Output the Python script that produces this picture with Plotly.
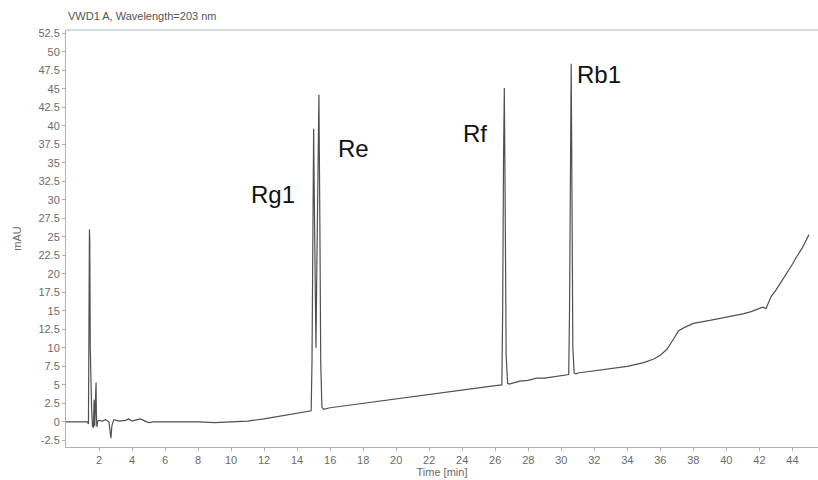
import plotly.graph_objects as go

# ---- data ----
pre_t   = [0.0, 1.0, 1.3]
pre_y   = [0.0, 0.0, 0.0]

solv_t  = [1.36, 1.38, 1.40, 1.42, 1.44, 1.47, 1.50, 1.55, 1.60, 1.66, 1.70, 1.74, 1.78, 1.82, 1.84, 1.87, 1.92, 2.0]
solv_y  = [-0.3, 10.0, 18.0, 26.0, 24.5, 10.0, 5.5, 2.0, -0.5, -0.8, 3.0, -0.6, 2.5, 5.3, 1.0, -0.7, 0.1, 0.2]

early_t = [2.2, 2.4, 2.6, 2.68, 2.72, 2.78, 2.9, 3.2, 3.6, 3.8, 4.0, 4.3, 4.5, 4.7, 5.0, 5.3, 5.6, 6.0, 6.4, 7.0, 8.0, 9.0, 10.0, 10.8, 11.0, 12.0, 13.0, 14.0, 14.6, 14.85]
early_y = [0.1, 0.3, 0.0, -1.5, -2.2, -0.5, 0.3, 0.1, 0.2, 0.4, 0.1, 0.3, 0.4, 0.2, -0.1, 0.0, 0.0, 0.1, 0.0, 0.0, 0.0, -0.1, 0.0, 0.0, 0.1, 0.4, 0.8, 1.2, 1.4, 1.5]

rg1_t   = [14.90, 14.95, 15.00, 15.05, 15.10, 15.14]
rg1_y   = [8.0, 25.0, 39.6, 28.0, 14.0, 10.0]

re_t    = [15.20, 15.26, 15.32, 15.38, 15.43, 15.50, 15.6]
re_y    = [22.0, 35.0, 44.2, 26.0, 8.0, 2.0, 1.7]

mid_t   = [16.0, 17.0, 18.0, 19.0, 20.0, 21.0, 22.0, 23.0, 24.0, 25.0, 26.0, 26.4]
mid_y   = [1.9, 2.2, 2.6, 2.9, 3.2, 3.5, 3.8, 4.1, 4.4, 4.7, 4.9, 5.0]

rf_t    = [26.45, 26.50, 26.55, 26.60, 26.66, 26.75, 26.85]
rf_y    = [15.0, 35.0, 45.1, 30.0, 9.0, 5.2, 5.1]

mid2_t  = [27.0, 27.5, 28.0, 28.5, 29.0, 29.5, 30.0, 30.45]
mid2_y  = [5.2, 5.5, 5.6, 5.9, 5.9, 6.1, 6.3, 6.4]

rb1_t   = [30.50, 30.55, 30.60, 30.65, 30.70, 30.78, 30.9]
rb1_y   = [15.0, 34.0, 48.4, 30.0, 10.0, 6.6, 6.5]

late_t  = [31.0, 32.0, 33.0, 34.0, 35.0, 35.6, 36.0, 36.4, 36.8, 37.1, 37.5, 38.0, 39.0, 40.0, 41.0, 41.5, 42.0, 42.2, 42.4, 42.7, 43.0, 43.5, 44.0, 44.2, 44.6, 45.0]
late_y  = [6.6, 6.9, 7.2, 7.5, 8.0, 8.5, 9.0, 9.8, 11.2, 12.3, 12.8, 13.3, 13.7, 14.1, 14.6, 14.9, 15.3, 15.5, 15.3, 16.9, 17.8, 19.5, 21.3, 22.1, 23.5, 25.3]

time = pre_t + solv_t + early_t + rg1_t + re_t + mid_t + rf_t + mid2_t + rb1_t + late_t
mau  = pre_y + solv_y + early_y + rg1_y + re_y + mid_y + rf_y + mid2_y + rb1_y + late_y

peak_names = ["Rg1", "Re", "Rf", "Rb1"]
label_x    = [12.55, 17.4, 24.75, 32.3]
label_y    = [30.7, 37.0, 38.9, 46.9]

x_ticks = list(range(2, 46, 2))
y_ticks = [i * 2.5 for i in range(-1, 22)]
y_labels = [("%g" % v) for v in y_ticks]

axis_col = "#a8b0c0"
tick_font = dict(family="Liberation Sans, Arial, sans-serif", size=11, color="#6b6b6b")

fig = go.Figure()
fig.add_trace(go.Scatter(x=time, y=mau, mode="lines",
                         line=dict(color="#505050", width=1.2), showlegend=False))

for name, lx, ly in zip(peak_names, label_x, label_y):
    fig.add_annotation(x=lx, y=ly, text=name, showarrow=False,
                       font=dict(family="Liberation Sans, Arial, sans-serif", size=24, color="#111111"))

fig.add_annotation(xref="paper", yref="paper", x=0.0, y=1.0, yshift=14, xanchor="left",
                   yanchor="middle", text="VWD1 A, Wavelength=203 nm", showarrow=False,
                   font=dict(family="Liberation Sans, Arial, sans-serif", size=11, color="#555555"))

# top frame line (no right-hand border in the reference)
fig.add_shape(type="line", xref="paper", yref="paper", x0=0, x1=1, y0=1, y1=1,
              line=dict(color=axis_col, width=1))

fig.update_layout(
    width=818, height=480,
    margin=dict(l=66, r=0, t=30, b=33),
    paper_bgcolor="white", plot_bgcolor="white",
    xaxis=dict(range=[0, 45.55], tickvals=x_ticks, ticktext=[str(v) for v in x_ticks],
               showgrid=False, zeroline=False, showline=True, linecolor=axis_col, linewidth=1,
               ticks="outside", ticklen=3, tickcolor=axis_col, tickfont=tick_font,
               title=dict(text="Time [min]", font=dict(family="Liberation Sans, Arial, sans-serif", size=11, color="#6b6b6b"), standoff=2)),
    yaxis=dict(range=[-3.4, 52.95], tickvals=y_ticks, ticktext=y_labels,
               showgrid=False, zeroline=False, showline=True, linecolor=axis_col, linewidth=1,
               ticks="outside", ticklen=3, tickcolor=axis_col, tickfont=tick_font,
               title=dict(text="mAU", font=dict(family="Liberation Sans, Arial, sans-serif", size=11, color="#6b6b6b"), standoff=14)),
)

fig.write_html("out.html")
